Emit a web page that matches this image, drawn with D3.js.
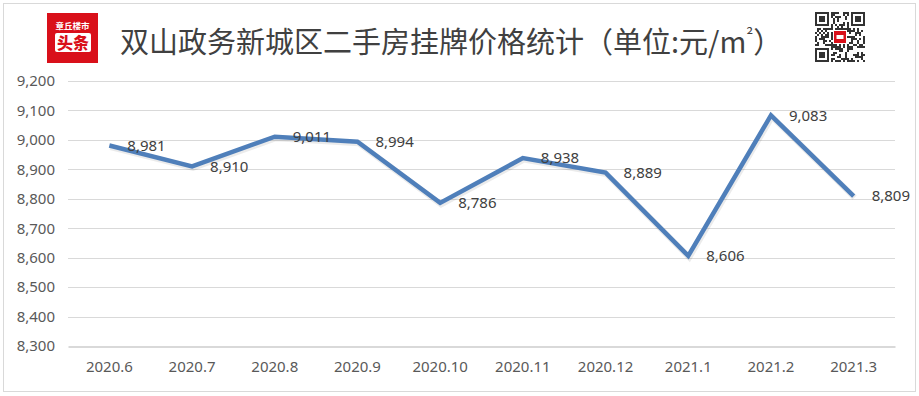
<!DOCTYPE html>
<html>
<head>
<meta charset="utf-8">
<script src="https://cdn.jsdelivr.net/npm/d3@7"></script>
<style>
  html, body { margin: 0; padding: 0; background: #fff; }
  svg { display: block; }
</style>
</head>
<body>
<div id="chart"></div>
<script>
const months = ["2020.6", "2020.7", "2020.8", "2020.9", "2020.10", "2020.11", "2020.12", "2021.1", "2021.2", "2021.3"];
const prices = [8981, 8910, 9011, 8994, 8786, 8938, 8889, 8606, 9083, 8809];
const yTicks = [8300, 8400, 8500, 8600, 8700, 8800, 8900, 9000, 9100, 9200];
const titleMain = "双山政务新城区二手房挂牌价格统计（单位:元/m";
const titleSup = "²";
const titleEnd = "）";

const WIDTH = 919;
const HEIGHT = 396;
const FONT = "'Noto Sans', 'Open Sans', sans-serif";
const CJK = "'Noto Sans CJK SC', sans-serif";
const LINE_COLOR = "#4f7fba";
const GRID_COLOR = "#d9d9d9";
const TEXT_COLOR = "#595959";

const svg = d3.select("#chart")
  .append("svg")
  .attr("width", WIDTH)
  .attr("height", HEIGHT);

// frame
svg.append("rect")
  .attr("x", 3.5).attr("y", 3.5)
  .attr("width", 912).attr("height", 388)
  .attr("fill", "none")
  .attr("stroke", GRID_COLOR);

// logo
const logo = svg.append("g").attr("transform", "translate(47,13)");
logo.append("rect").attr("width", 51).attr("height", 50).attr("fill", "#d9101a");
logo.append("text")
  .attr("x", 25.5).attr("y", 16)
  .attr("text-anchor", "middle")
  .attr("fill", "#fff")
  .attr("font-family", CJK)
  .attr("font-size", 8.5)
  .attr("font-weight", 700)
  .text("章丘楼市");
logo.append("rect")
  .attr("x", 8).attr("y", 20).attr("width", 36).attr("height", 19)
  .attr("rx", 2).attr("fill", "#fff");
logo.append("text")
  .attr("x", 26).attr("y", 35.5)
  .attr("text-anchor", "middle")
  .attr("fill", "#d9101a")
  .attr("font-family", CJK)
  .attr("font-size", 16)
  .attr("font-weight", 900)
  .text("头条");

// title
const title = svg.append("text")
  .attr("x", 120).attr("y", 53)
  .attr("fill", "#404040")
  .attr("font-family", CJK)
  .attr("font-size", 29)
  .attr("font-weight", 400);
title.append("tspan").text(titleMain);
title.append("tspan").attr("font-size", 17).attr("dy", -11).text(titleSup);
title.append("tspan").attr("dy", 11).text(titleEnd);

// qr-like badge
const qr = svg.append("g").attr("transform", "translate(815,12)");
const N = 25, cell = 2;
let seed = 7;
const bits = [];
for (let i = 0; i < N * N; i++) {
  seed = (seed * 1103515245 + 12345) & 0x7fffffff;
  bits.push((seed >> 16) & 1);
}
const inFinder = (r, c) =>
  (r < 8 && c < 8) || (r < 8 && c >= N - 8) || (r >= N - 8 && c < 8);
for (let r = 0; r < N; r++) {
  for (let c = 0; c < N; c++) {
    if (!inFinder(r, c) && bits[r * N + c]) {
      qr.append("rect").attr("x", c * cell).attr("y", r * cell)
        .attr("width", cell).attr("height", cell).attr("fill", "#333");
    }
  }
}
[[0, 0], [0, N - 7], [N - 7, 0]].forEach(([r, c]) => {
  qr.append("rect").attr("x", c * cell + 1).attr("y", r * cell + 1)
    .attr("width", 12).attr("height", 12)
    .attr("fill", "#fff").attr("stroke", "#333").attr("stroke-width", 2);
  qr.append("rect").attr("x", c * cell + 4).attr("y", r * cell + 4)
    .attr("width", 6).attr("height", 6).attr("fill", "#333");
});
qr.append("rect").attr("x", 18).attr("y", 18).attr("width", 14).attr("height", 14).attr("fill", "#fff");
qr.append("rect").attr("x", 19).attr("y", 19).attr("width", 12).attr("height", 12).attr("fill", "#d9101a");
qr.append("rect").attr("x", 21.5).attr("y", 23).attr("width", 7).attr("height", 4).attr("fill", "#fff");

// chart area
const margin = { left: 68, right: 24, top: 81, bottom: 50 };
const x = d3.scaleBand()
  .domain(months)
  .range([margin.left, WIDTH - margin.right]);
const y = d3.scaleLinear()
  .domain([8300, 9200])
  .range([HEIGHT - margin.bottom, margin.top]);

const grid = svg.append("g");
grid.selectAll("line")
  .data(yTicks.slice(1))
  .join("line")
  .attr("x1", margin.left)
  .attr("x2", WIDTH - margin.right)
  .attr("y1", d => Math.round(y(d)) + 0.5)
  .attr("y2", d => Math.round(y(d)) + 0.5)
  .attr("stroke", GRID_COLOR)
  .attr("stroke-width", 1);

const yAxis = svg.append("g")
  .attr("transform", `translate(${margin.left},0)`)
  .call(d3.axisLeft(y).tickValues(yTicks).tickSize(0).tickPadding(13).tickFormat(d3.format(",")));
yAxis.select(".domain").remove();
yAxis.selectAll("text")
  .attr("fill", TEXT_COLOR)
  .attr("font-family", FONT)
  .attr("font-size", 15);

const xAxis = svg.append("g")
  .attr("transform", `translate(0,${Math.round(y(8300)) + 0.5})`)
  .call(d3.axisBottom(x).tickSize(0).tickPadding(15));
xAxis.select(".domain")
  .attr("stroke", GRID_COLOR)
  .attr("stroke-width", 2);
xAxis.selectAll("text")
  .attr("fill", TEXT_COLOR)
  .attr("font-family", FONT)
  .attr("font-size", 15);

const pts = months.map((m, i) => ({ m, v: prices[i] }));
const line = d3.line()
  .x(d => x(d.m) + x.bandwidth() / 2)
  .y(d => y(d.v));

svg.append("path")
  .datum(pts)
  .attr("d", line)
  .attr("fill", "none")
  .attr("stroke", "#000")
  .attr("stroke-opacity", 0.08)
  .attr("stroke-width", 6)
  .attr("transform", "translate(1,1.5)");
svg.append("path")
  .datum(pts)
  .attr("d", line)
  .attr("fill", "none")
  .attr("stroke", LINE_COLOR)
  .attr("stroke-width", 4.5);

svg.append("g")
  .selectAll("text")
  .data(pts)
  .join("text")
  .attr("x", d => x(d.m) + x.bandwidth() / 2 + 18)
  .attr("y", d => y(d.v))
  .attr("dy", "0.35em")
  .attr("fill", "#404040")
  .attr("font-family", FONT)
  .attr("font-size", 15)
  .text(d => d3.format(",")(d.v));
</script>
</body>
</html>
